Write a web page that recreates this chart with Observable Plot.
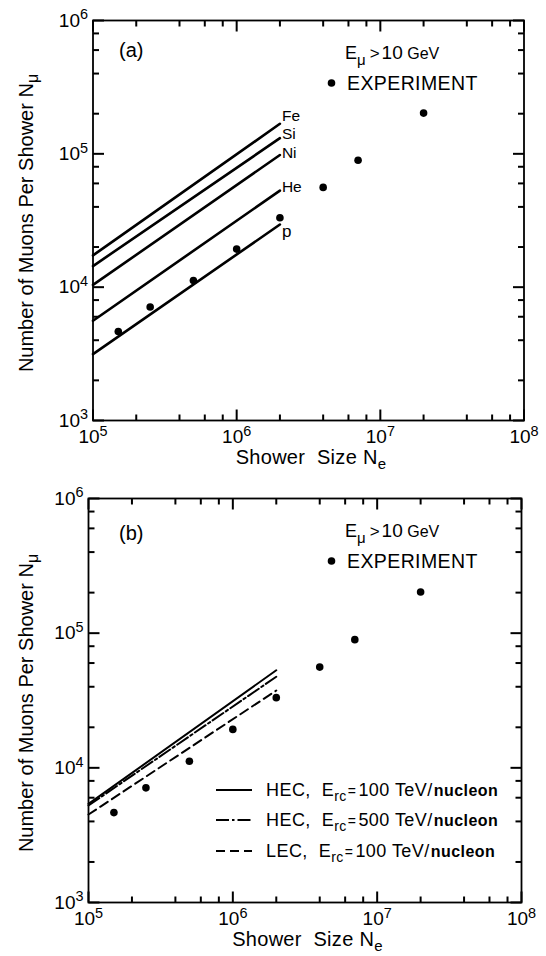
<!DOCTYPE html>
<html>
<head>
<meta charset="utf-8">
<script src="https://cdn.jsdelivr.net/npm/d3@7"></script>
<script src="https://cdn.jsdelivr.net/npm/@observablehq/plot@0.6"></script>
<style>
  body { margin: 0; background: #fff; }
  #chart { width: 546px; }
  #chart svg { display: block; }
</style>
</head>
<body>
<div id="chart"></div>
<script>
// ---- data ----
const showerSize = [1.5e5, 2.5e5, 5e5, 1e6, 2e6, 4e6, 7e6, 2e7];      // N_e of experimental points
const muonsExp   = [4650, 7100, 11200, 19300, 33200, 56000, 89500, 202000]; // N_mu measured

const lineRange  = [1e5, 2e6];                       // x extent of computed lines
const primaries  = ["Fe", "Si", "Ni", "He", "p"];    // panel (a) primary compositions
const primStart  = [17300, 14400, 10400, 5600, 3150];
const primEnd    = [168000, 131000, 98000, 53000, 29500];

const models     = ["HEC100", "HEC500", "LEC100"];   // panel (b) interaction models
const modelLabel = [
  ["HEC,", "100"],
  ["HEC,", "500"],
  ["LEC,", "100"]
];
const modelStart = [5400, 5250, 4500];
const modelEnd   = [53000, 47500, 37500];

const xMajor = [1e5, 1e6, 1e7, 1e8];
const yMajor = [1e3, 1e4, 1e5, 1e6];
const minorSteps = [2, 4, 6, 8];
const xMinor = xMajor.slice(0, -1).flatMap(d => minorSteps.map(m => d * m));
const yMinor = yMajor.slice(0, -1).flatMap(d => minorSteps.map(m => d * m));

// ---- helpers ----
const FONT = '"Liberation Sans", Arial, Helvetica, sans-serif';
const expr = d => "10^" + Math.round(Math.log10(d));
const expRows = showerSize.map((x, i) => ({x, y: muonsExp[i]}));
const W = 546, H = 478;
const X0 = 1e5, X1 = 1e8, Y0 = 1e3, Y1 = 1e6;

// inward tick segments, expressed in data space so that Plot's log scales place them
function tickSegments(w, h) {
  const px = w / 3, py = h / 3; // pixels per decade
  const fy = len => Math.pow(10, len / py);
  const fx = len => Math.pow(10, len / px);
  const rows = [];
  let id = 0;
  for (const [vals, len] of [[xMajor, 11], [xMinor, 6]]) {
    for (const v of vals) {
      rows.push({id, x: v, y: Y0}, {id, x: v, y: Y0 * fy(len)}); id++;
      rows.push({id, x: v, y: Y1}, {id, x: v, y: Y1 / fy(len)}); id++;
    }
  }
  for (const [vals, len] of [[yMajor, 11], [yMinor, 6]]) {
    for (const v of vals) {
      rows.push({id, x: X0, y: v}, {id, x: X0 * fx(len), y: v}); id++;
      rows.push({id, x: X1, y: v}, {id, x: X1 / fx(len), y: v}); id++;
    }
  }
  return rows;
}

function frameAxes(w, h) {
  return [
    Plot.line(tickSegments(w, h), {x: "x", y: "y", z: "id", stroke: "#000", strokeWidth: 2, strokeLinecap: "butt"}),
    Plot.axisX({anchor: "bottom", ticks: xMajor, tickSize: 0, tickPadding: 9, tickFormat: expr, label: null, fontSize: 19}),
    Plot.axisY({anchor: "left", ticks: yMajor, tickSize: 0, tickPadding: 5, tickFormat: expr, label: null, fontSize: 19}),
    Plot.frame({stroke: "#000", strokeWidth: 1.8})
  ];
}

function rich(parent, x, y, parts, attrs = {}) {
  const t = parent.append("text").attr("x", x).attr("y", y)
    .attr("font-family", FONT).attr("fill", "#000").attr("text-anchor", "start");
  for (const [k, v] of Object.entries(attrs)) t.attr(k, v);
  for (const p of parts) {
    const s = t.append("tspan").text(p.t);
    if (p.size) s.attr("font-size", p.size);
    if (p.dy) s.attr("dy", p.dy);
    if (p.dx) s.attr("dx", p.dx);
    if (p.weight) s.attr("font-weight", p.weight);
  }
  return t;
}

function finish(svg, m, opts) {
  const g = d3.select(svg);
  // exponent tick labels
  g.selectAll("text").each(function () {
    const s = this.textContent;
    const mm = /^10\^(\d)$/.exec(s);
    if (!mm) return;
    const el = d3.select(this);
    el.text(null);
    el.append("tspan").text("10");
    el.append("tspan").text(mm[1]).attr("font-size", "0.76em").attr("dy", "-0.5em");
  });
  const cx = (m.left + (W - m.right)) / 2;
  const cy = (m.top + (H - m.bottom)) / 2;
  // x title
  rich(g, cx + 3, H - m.bottom + 44, [
    {t: "Shower  Size N"}, {t: "e", size: 15, dy: 5}
  ], {"text-anchor": "middle", "font-size": 20, "letter-spacing": 0.3});
  // y title
  rich(g, 0, 0, [
    {t: "Number of Muons Per Shower N"}, {t: "μ", size: 16, dy: 5}
  ], {"text-anchor": "middle", "font-size": 20,
      transform: `translate(33,${cy + 3}) rotate(-90)`});
  // panel tag
  rich(g, 119, opts.tagY, [{t: opts.tag}], {"font-size": 20});
  // E_mu > 10 GeV
  rich(g, 345, 59, [
    {t: "E", size: 18}, {t: "μ", size: 15, dy: 6},
    {t: ">", size: 17, dy: -6, dx: 4}, {t: "10", size: 19, dx: 2}, {t: " GeV", size: 16}
  ]);
  // EXPERIMENT legend
  g.append("circle").attr("cx", 331.5).attr("cy", 83).attr("r", 3.8).attr("fill", "#000");
  rich(g, 347, 89.5, [{t: "EXPERIMENT"}], {"font-size": 19.5, "letter-spacing": 0.4});
}

function makePanel(marks, m, opts) {
  const w = W - m.left - m.right, h = H - m.top - m.bottom;
  const svg = Plot.plot({
    width: W, height: H,
    marginTop: m.top, marginBottom: m.bottom, marginLeft: m.left, marginRight: m.right,
    style: {fontFamily: FONT, color: "#000", background: "#fff"},
    x: {type: "log", domain: [X0, X1]},
    y: {type: "log", domain: [Y0, Y1]},
    marks: [...frameAxes(w, h), ...marks]
  });
  finish(svg, m, opts);
  return svg;
}

// ---- panel (a) ----
const primRows = primaries.flatMap((name, i) => [
  {name, x: lineRange[0], y: primStart[i]},
  {name, x: lineRange[1], y: primEnd[i]}
]);
const primEnds = primaries.map((name, i) => ({name, x: lineRange[1], y: primEnd[i]}));
const labelDy = {Fe: -8, Si: -4, Ni: -2, He: -4, p: 7};

const mA = {top: 20, bottom: 58, left: 92.5, right: 22.5};
const panelA = makePanel([
  Plot.line(primRows, {x: "x", y: "y", z: "name", stroke: "#000", strokeWidth: 2.6}),
  ...primaries.map(name => Plot.text(primEnds.filter(d => d.name === name), {
    x: "x", y: "y", text: "name", textAnchor: "start", dx: 2, dy: labelDy[name],
    fontSize: name === "p" ? 17 : 15.5
  })),
  Plot.dot(expRows, {x: "x", y: "y", r: 3.8, fill: "#000"})
], mA, {tag: "(a)", tagY: 57});

// ---- panel (b) ----
const modelRows = models.flatMap((name, i) => [
  {name, x: lineRange[0], y: modelStart[i]},
  {name, x: lineRange[1], y: modelEnd[i]}
]);
const dashes = {HEC100: null, HEC500: "13,3,2.5,3", LEC100: "9,5"};
const mB = {top: 20, bottom: 54, left: 88, right: 25};
const panelB = makePanel([
  ...models.map(name => Plot.line(modelRows.filter(d => d.name === name), {
    x: "x", y: "y", stroke: "#000", strokeWidth: 2, strokeDasharray: dashes[name]
  })),
  Plot.dot(expRows, {x: "x", y: "y", r: 3.8, fill: "#000"})
], mB, {tag: "(b)", tagY: 62});

// legend of panel (b)
{
  const g = d3.select(panelB);
  const rowsY = [312, 342, 373];
  models.forEach((name, i) => {
    const y = rowsY[i];
    g.append("line").attr("x1", 216).attr("x2", 252).attr("y1", y).attr("y2", y)
      .attr("stroke", "#000").attr("stroke-width", 2)
      .attr("stroke-dasharray", dashes[name]);
    const [a, val] = modelLabel[i];
    rich(g, 266, y + 6, [
      {t: a + "  "}, {t: "E", size: 18}, {t: "rc", size: 14, dy: 5},
      {t: "=", size: 14, dy: -5, dx: 1}, {t: val, size: 18, dx: 2},
      {t: " TeV/", size: 18}, {t: "nucleon", size: 16, weight: "bold", dx: 1}
    ], {"font-size": 18, "letter-spacing": 0.45});
  });
}

const chart = document.getElementById("chart");
chart.append(panelA, panelB);
</script>
</body>
</html>
